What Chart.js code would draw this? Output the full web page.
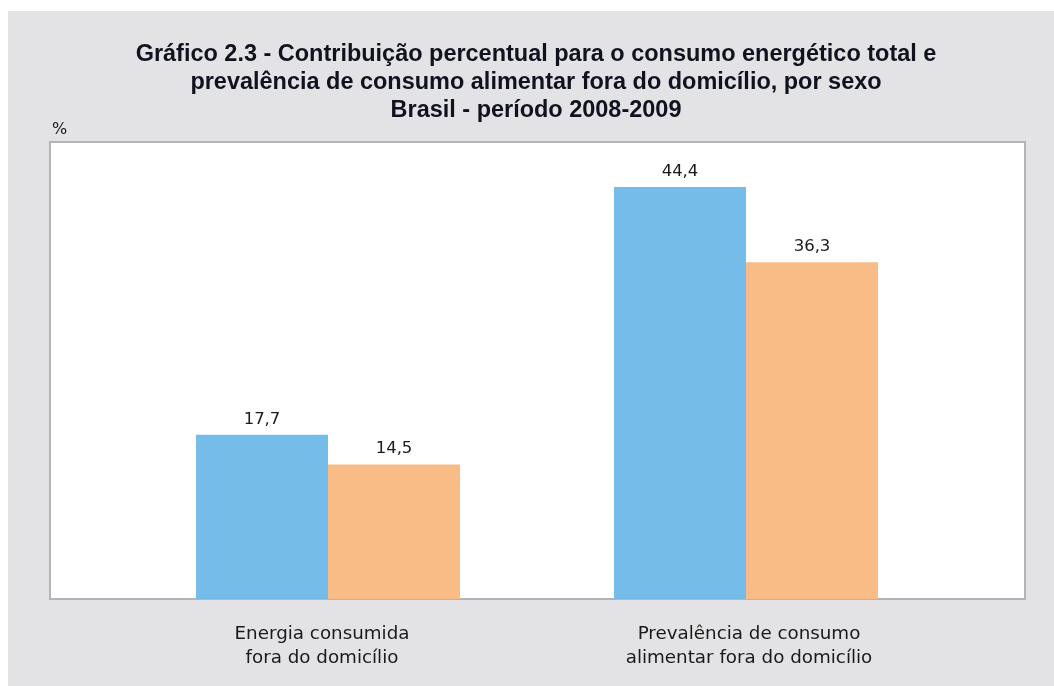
<!DOCTYPE html>
<html><head><meta charset="utf-8">
<script src="https://cdn.jsdelivr.net/npm/chart.js@4.4.1/dist/chart.umd.min.js"></script>
<style>html,body{margin:0;padding:0;background:#fff;}#wrap{width:1054px;height:686px;position:relative;}</style>
</head><body><div id="wrap"><canvas id="c" width="1054" height="686"></canvas></div>
<script>
const categories = [["Energia consumida","fora do domicílio"],["Prevalência de consumo","alimentar fora do domicílio"]];
const seriesNames = ["Homens","Mulheres"];
const homens = [17.7, 44.4];
const mulheres = [14.5, 36.3];
const titleLines = ["Gráfico 2.3 - Contribuição percentual para o consumo energético total e","prevalência de consumo alimentar fora do domicílio, por sexo","Brasil - período 2008-2009"];
const unitLabel = "%";
const TFONT = "'Liberation Sans', Arial, sans-serif";
const LFONT = "'DejaVu Sans', 'Liberation Sans', sans-serif";

function fitSize(ctx, text, weight, family, target){
  ctx.font = weight + " 20px " + family;
  const w = ctx.measureText(text).width;
  return 20 * target / w;
}

const decor = {
  id:'decor',
  beforeDraw(chart){
    const ctx = chart.ctx;
    ctx.save();
    ctx.fillStyle='#ffffff'; ctx.fillRect(0,0,1054,686);
    ctx.fillStyle='#e3e3e5'; ctx.fillRect(8,11,1046,675);
    ctx.fillStyle='#ffffff'; ctx.fillRect(50,142,975,457);
    ctx.strokeStyle='#b3b4b8'; ctx.lineWidth=2;
    ctx.strokeRect(50,142,975,457);
    ctx.restore();
  },
  afterDraw(chart){
    const ctx = chart.ctx;
    ctx.save();
    ctx.fillStyle='#10121e';
    ctx.textAlign='center'; ctx.textBaseline='alphabetic';
    const ts = fitSize(ctx, titleLines[0], "bold", TFONT, 801);
    ctx.font = "bold " + ts.toFixed(2) + "px " + TFONT;
    titleLines.forEach((t,i)=>ctx.fillText(t,536,61+i*28));
    ctx.fillStyle='#1a1a1a';
    ctx.font = "16px " + LFONT;
    ctx.textAlign='left';
    ctx.fillText(unitLabel,52,134);
    // category labels
    const xs = chart.scales.x;
    ctx.textAlign='center';
    const ls = fitSize(ctx, categories[0][0], "normal", LFONT, 175);
    ctx.font = ls.toFixed(2) + "px " + LFONT;
    const shift = [-6, 3];
    categories.forEach((lines,i)=>{
      const x = xs.getPixelForValue(i) + shift[i];
      lines.forEach((l,j)=>ctx.fillText(l,x,639+j*24));
    });
    // value labels
    ctx.font = "16.5px " + LFONT;
    chart.data.datasets.forEach((ds,di)=>{
      const meta = chart.getDatasetMeta(di);
      meta.data.forEach((el,i)=>{
        ctx.fillText(ds.data[i].toFixed(1).replace('.',','), el.x, el.y-11);
      });
    });
    ctx.restore();
  }
};

new Chart(document.getElementById('c'),{
  type:'bar',
  data:{
    labels: categories.map(c=>c.join(' ')),
    datasets:[
      {label:seriesNames[0], data:homens, backgroundColor:'#75bde8', borderWidth:0},
      {label:seriesNames[1], data:mulheres, backgroundColor:'#f9bc87', borderWidth:0}
    ]
  },
  options:{
    responsive:false, animation:false,
    devicePixelRatio:1,
    layout:{padding:{left:119,right:99,top:142,bottom:87}},
    plugins:{legend:{display:false},title:{display:false},tooltip:{enabled:false}},
    datasets:{bar:{barPercentage:1,categoryPercentage:0.6316}},
    scales:{
      x:{display:false, offset:true},
      y:{display:false, min:0, max:49.25}
    }
  },
  plugins:[decor]
});
</script></body></html>
